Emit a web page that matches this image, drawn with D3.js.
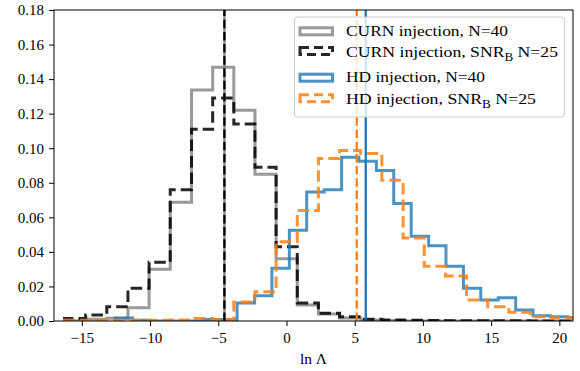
<!DOCTYPE html>
<html lang="en">
<head>
<meta charset="utf-8">
<title>ln Lambda histograms</title>
<script src="https://d3js.org/d3.v7.min.js"></script>
<style>
  html, body { margin: 0; padding: 0; background: #fff; }
  svg { display: block; font-family: "Liberation Serif", "DejaVu Serif", serif; }
</style>
</head>
<body>
<svg id="chart"></svg>
<script>
// shared bin edges (CURN runs and HD SNR_B run)
const curnEdges = [-16.27, -14.72, -13.17, -11.62, -10.07, -8.52, -6.96, -5.41, -3.86, -2.31,
  -0.76, 0.79, 2.34, 3.89, 5.44, 6.99, 8.55, 10.10, 11.65, 13.20, 14.75, 16.30, 17.85, 19.40, 20.95];
const curn40 = [0, 0.001, 0.0016, 0.0077, 0.030, 0.0688, 0.1337, 0.1468, 0.122, 0.085, 0.036, 0.0092,
  0.004, 0.0018, 0.0006, 0.0003, 0, 0, 0, 0, 0, 0, 0, 0];
const curnSnr = [0.0015, 0.0035, 0.0083, 0.019, 0.034, 0.076, 0.111, 0.129, 0.114, 0.089, 0.043, 0.0104,
  0.0045, 0.0025, 0.001, 0.0006, 0.0004, 0.0003, 0.0002, 0.0002, 0.0001, 0.0001, 0, 0];
const hdSnr = [0.0005, 0.0005, 0.0005, 0.0004, 0.0004, 0.0006, 0.0015, 0.0008, 0.011, 0.017, 0.0458, 0.064,
  0.094, 0.0987, 0.097, 0.0814, 0.048, 0.0317, 0.026, 0.0121, 0.0083, 0.005, 0.0025, 0.0017];
// HD N=40 has its own binning
const hdEdges = [-12.55, -11.28, -10.00, -8.72, -7.45, -6.17, -4.90, -3.62, -2.34, -1.07, 0.21, 1.48, 2.76,
  4.04, 5.31, 6.59, 7.86, 9.14, 10.42, 11.69, 12.97, 14.24, 15.52, 16.80, 18.07, 19.35, 20.62, 21.90];
const hd40 = [0.0017, 0.0004, 0, 0, 0, 0.0008, 0.0008, 0.0104, 0.0146, 0.0306, 0.0525, 0.0746, 0.076,
  0.0948, 0.0925, 0.0871, 0.068, 0.049, 0.0435, 0.0317, 0.019, 0.0121, 0.0135, 0.0063, 0.003, 0.0025, 0.002];

const medianLabels = ["CURN N=40", "CURN SNR_B", "HD N=40", "HD SNR_B"];
const medianValues = [-4.55, -4.55, 5.81, 5.15];

const legendLabels = [
  ["CURN injection, N=40", null, ""],
  ["CURN injection, SNR", "B", " N=25"],
  ["HD injection, N=40", null, ""],
  ["HD injection, SNR", "B", " N=25"]
];
const xTicks = [-15, -10, -5, 0, 5, 10, 15, 20];
const yTicks = [0, 0.02, 0.04, 0.06, 0.08, 0.10, 0.12, 0.14, 0.16, 0.18];

const serif = '"Liberation Serif", "DejaVu Serif", serif';
const width = 580, height = 371;
const margin = { top: 10, right: 7, bottom: 50, left: 54 };

const svg = d3.select("#chart").attr("width", width).attr("height", height);

const x = d3.scaleLinear().domain([-17.04, 21.0]).range([margin.left, width - margin.right]);
const y = d3.scaleLinear().domain([0, 0.18]).range([height - margin.bottom, margin.top]);

const styles = [
  { color: "#808080", dash: null, opacity: 0.8 },
  { color: "#000000", dash: "11.5,5", opacity: 0.85 },
  { color: "#1f77b4", dash: null, opacity: 0.8 },
  { color: "#ff7f0e", dash: "11.5,5", opacity: 0.85 }
];

svg.append("clipPath").attr("id", "plot-clip")
  .append("rect")
  .attr("x", margin.left).attr("y", margin.top)
  .attr("width", width - margin.left - margin.right)
  .attr("height", height - margin.top - margin.bottom);

const plot = svg.append("g").attr("clip-path", "url(#plot-clip)");

// step outline like histtype='step'
function stepPoints(edges, vals) {
  const pts = [[edges[0], 0]];
  vals.forEach((v, i) => {
    pts.push([edges[i], v]);
    pts.push([edges[i + 1], v]);
  });
  pts.push([edges[edges.length - 1], 0]);
  return pts;
}
const line = d3.line().x(d => x(d[0])).y(d => y(d[1]));

const hists = [
  { edges: curnEdges, vals: curn40 },
  { edges: curnEdges, vals: curnSnr },
  { edges: hdEdges, vals: hd40 },
  { edges: curnEdges, vals: hdSnr }
];
hists.forEach((h, i) => {
  plot.append("path")
    .attr("d", line(stepPoints(h.edges, h.vals)))
    .attr("fill", "none")
    .attr("stroke", styles[i].color)
    .attr("stroke-opacity", styles[i].opacity)
    .attr("stroke-width", 3)
    .attr("stroke-dasharray", styles[i].dash);
});

// median lines
medianValues.forEach((m, i) => {
  plot.append("line")
    .attr("x1", x(m)).attr("x2", x(m))
    .attr("y1", y(0)).attr("y2", y(0.18))
    .attr("stroke", styles[i].color)
    .attr("stroke-width", 2.3)
    .attr("stroke-dasharray", styles[i].dash ? "8.5,3.7" : null);
});

// axes
function styleAxis(g) {
  g.select(".domain").remove();
  g.attr("font-family", serif).attr("font-size", 15);
  g.selectAll(".tick text").attr("font-family", serif).attr("font-size", 15).attr("fill", "#000");
}
svg.append("g")
  .attr("transform", `translate(0,${height - margin.bottom})`)
  .call(d3.axisBottom(x).tickValues(xTicks).tickSize(5).tickPadding(6)
    .tickFormat(d => d < 0 ? "\u2212" + Math.abs(d) : d))
  .call(styleAxis);
svg.append("g")
  .attr("transform", `translate(${margin.left},0)`)
  .call(d3.axisLeft(y).tickValues(yTicks).tickSize(5).tickPadding(5).tickFormat(d3.format(".2f")))
  .call(styleAxis);

svg.append("rect")
  .attr("x", margin.left).attr("y", margin.top)
  .attr("width", width - margin.left - margin.right)
  .attr("height", height - margin.top - margin.bottom)
  .attr("fill", "none").attr("stroke", "#000").attr("stroke-width", 1);

svg.append("text")
  .attr("x", (margin.left + width - margin.right) / 2)
  .attr("y", 364)
  .attr("text-anchor", "middle")
  .attr("font-size", 15.5)
  .text("ln \u039b");

// legend
const legend = svg.append("g");
legend.append("rect")
  .attr("x", 294.5).attr("y", 17).attr("width", 270).attr("height", 100)
  .attr("rx", 3)
  .attr("fill", "#fff").attr("fill-opacity", 0.8)
  .attr("stroke", "#cccccc").attr("stroke-width", 1);

const rowPatch = [31.3, 51, 77.7, 98.3];
const rowBase = [35.5, 56.5, 82, 104];
const rowWidth = [162, 212, 139, 190];
legendLabels.forEach((lab, i) => {
  legend.append("rect")
    .attr("x", 300).attr("y", rowPatch[i] - 3.5)
    .attr("width", 32.5).attr("height", 7)
    .attr("fill", "none")
    .attr("stroke", styles[i].color)
    .attr("stroke-opacity", styles[i].opacity)
    .attr("stroke-width", 3)
    .attr("stroke-dasharray", styles[i].dash ? "9,5" : null);
  const t = legend.append("text")
    .attr("x", 346).attr("y", rowBase[i])
    .attr("font-size", 15.5)
    .attr("textLength", rowWidth[i])
    .attr("lengthAdjust", "spacingAndGlyphs");
  t.append("tspan").text(lab[0]);
  if (lab[1]) {
    t.append("tspan").attr("dy", 4).attr("font-size", 11.5).text(lab[1]);
    t.append("tspan").attr("dy", -4).text(lab[2]);
  }
});
</script>
</body>
</html>
